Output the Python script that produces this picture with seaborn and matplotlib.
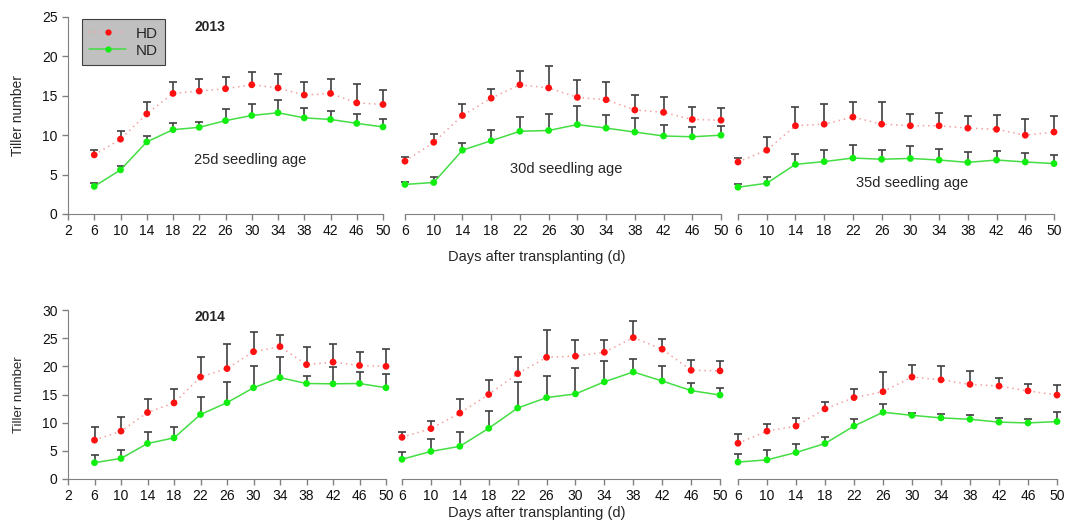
import numpy as np
import pandas as pd
import matplotlib
matplotlib.use("Agg")
import matplotlib.pyplot as plt
from matplotlib.lines import Line2D
import seaborn as sns

days = [6, 10, 14, 18, 22, 26, 30, 34, 38, 42, 46, 50]

# 2013
hd_2013_25 = [7.5, 9.5, 12.7, 15.3, 15.6, 15.9, 16.4, 16.0, 15.1, 15.3, 14.1, 13.9]
hd_2013_25_sd = [0.6, 1.0, 1.55, 1.5, 1.5, 1.5, 1.6, 1.8, 1.6, 1.8, 2.4, 1.8]
nd_2013_25 = [3.5, 5.6, 9.15, 10.7, 11.0, 11.85, 12.5, 12.85, 12.2, 12.0, 11.5, 11.05]
nd_2013_25_sd = [0.4, 0.55, 0.8, 0.8, 0.7, 1.45, 1.4, 1.65, 1.2, 1.1, 1.2, 1.05]

hd_2013_30 = [6.7, 9.1, 12.5, 14.7, 16.4, 16.0, 14.8, 14.5, 13.2, 12.9, 12.0, 11.9]
hd_2013_30_sd = [0.5, 1.1, 1.4, 1.1, 1.7, 2.8, 2.2, 2.2, 1.9, 2.0, 1.6, 1.5]
nd_2013_30 = [3.75, 4.0, 8.1, 9.3, 10.5, 10.6, 11.35, 10.9, 10.4, 9.9, 9.8, 10.0]
nd_2013_30_sd = [0.35, 0.75, 0.95, 1.35, 1.75, 2.1, 2.35, 1.6, 1.8, 1.4, 1.2, 1.2]

hd_2013_35 = [6.6, 8.1, 11.2, 11.4, 12.3, 11.4, 11.2, 11.2, 10.9, 10.75, 10.0, 10.4]
hd_2013_35_sd = [0.5, 1.65, 2.4, 2.6, 1.95, 2.8, 1.5, 1.6, 1.5, 1.8, 2.1, 2.0]
nd_2013_35 = [3.4, 3.9, 6.3, 6.65, 7.1, 6.95, 7.05, 6.85, 6.55, 6.85, 6.6, 6.4]
nd_2013_35_sd = [0.45, 0.85, 1.35, 1.45, 1.6, 1.15, 1.55, 1.35, 1.3, 1.1, 1.1, 1.1]

# 2014
hd_2014_25 = [6.9, 8.5, 11.8, 13.5, 18.1, 19.6, 22.6, 23.5, 20.3, 20.75, 20.15, 20.0]
hd_2014_25_sd = [2.35, 2.5, 2.4, 2.4, 3.6, 4.4, 3.5, 2.0, 3.1, 3.25, 2.35, 3.1]
nd_2014_25 = [2.9, 3.65, 6.3, 7.3, 11.45, 13.55, 16.2, 18.0, 16.95, 16.9, 16.95, 16.2]
nd_2014_25_sd = [1.3, 1.5, 2.0, 1.95, 3.05, 3.7, 3.9, 3.7, 1.25, 2.95, 2.05, 2.5]

hd_2014_30 = [7.4, 8.95, 11.7, 15.0, 18.7, 21.6, 21.8, 22.5, 25.1, 23.05, 19.3, 19.2]
hd_2014_30_sd = [0.9, 1.35, 2.5, 2.5, 3.0, 4.9, 2.8, 2.2, 3.0, 1.85, 1.9, 1.8]
nd_2014_30 = [3.5, 4.9, 5.8, 9.0, 12.6, 14.45, 15.1, 17.25, 19.0, 17.4, 15.7, 14.9]
nd_2014_30_sd = [1.25, 2.2, 2.6, 3.1, 4.7, 3.85, 4.6, 3.65, 2.3, 2.7, 1.4, 1.3]

hd_2014_35 = [6.35, 8.5, 9.4, 12.45, 14.45, 15.5, 18.1, 17.6, 16.8, 16.5, 15.65, 14.9]
hd_2014_35_sd = [1.55, 1.3, 1.45, 1.25, 1.6, 3.5, 2.1, 2.4, 2.4, 1.4, 1.3, 1.7]
nd_2014_35 = [3.0, 3.4, 4.7, 6.3, 9.4, 11.85, 11.3, 10.85, 10.6, 10.1, 9.95, 10.2]
nd_2014_35_sd = [1.5, 1.7, 1.5, 1.15, 1.2, 1.55, 0.4, 0.65, 0.8, 0.7, 0.7, 1.7]

ages = ["25d seedling age", "30d seedling age", "35d seedling age"]

series = {
    (2013, 0): (hd_2013_25, hd_2013_25_sd, nd_2013_25, nd_2013_25_sd),
    (2013, 1): (hd_2013_30, hd_2013_30_sd, nd_2013_30, nd_2013_30_sd),
    (2013, 2): (hd_2013_35, hd_2013_35_sd, nd_2013_35, nd_2013_35_sd),
    (2014, 0): (hd_2014_25, hd_2014_25_sd, nd_2014_25, nd_2014_25_sd),
    (2014, 1): (hd_2014_30, hd_2014_30_sd, nd_2014_30, nd_2014_30_sd),
    (2014, 2): (hd_2014_35, hd_2014_35_sd, nd_2014_35, nd_2014_35_sd),
}

rows = []
for (year, i), (hd, hd_sd, nd, nd_sd) in series.items():
    for d, m, s in zip(days, hd, hd_sd):
        rows.append(dict(year=year, age=ages[i], day=d, trt="HD", mean=m, sd=s))
    for d, m, s in zip(days, nd, nd_sd):
        rows.append(dict(year=year, age=ages[i], day=d, trt="ND", mean=m, sd=s))
df = pd.DataFrame(rows)

sns.set_style("ticks")
plt.rcParams['font.family'] = ['Liberation Sans', 'DejaVu Sans']

line_col = {"HD": "#f4a0a0", "ND": "#44dd44"}
mark_col = {"HD": "#ff1010", "ND": "#10ee10"}
spine_col = "#808080"

fig = plt.figure(figsize=(10.65, 5.23), dpi=100)
W, H = 1065, 523

# pixel boxes (left, right) for panels, (top, bottom) for rows
top_cols = [(68, 383), (405, 721), (738, 1054)]
bot_cols = [(68, 386), (402, 720), (738, 1057)]
rows_px = {2013: (17, 214), 2014: (310, 479)}
ymax = {2013: 25, 2014: 30}
# label positions in data units
age_pos = {0: (29.7, 6.85), 1: (28.4, 5.7), 2: (30.2, 3.9)}
year_pos = {2013: (0.45, 0.95), 2014: (0.447, 0.96)}

for year, cols in [(2013, top_cols), (2014, bot_cols)]:
    t, b = rows_px[year]
    for i, (l, r) in enumerate(cols):
        ax = fig.add_axes([l / W, 1 - b / H, (r - l) / W, (b - t) / H])
        sub = df[(df.year == year) & (df.age == ages[i])]

        for trt in ["HD", "ND"]:
            s = sub[sub.trt == trt]
            # upper error bars only
            ax.vlines(s["day"], s["mean"], s["mean"] + s["sd"], color="#404040",
                      lw=1.2, zorder=2, clip_on=False)
            ax.scatter(s["day"], s["mean"] + s["sd"], marker="_", s=40,
                       color="#404040", lw=1.2, zorder=2, clip_on=False)
        sns.lineplot(data=sub, x="day", y="mean", hue="trt", style="trt",
                     palette=line_col, dashes={"HD": (1, 2.5), "ND": ""},
                     lw=1.1, ax=ax, legend=False, zorder=3)
        sns.scatterplot(data=sub, x="day", y="mean", hue="trt", palette=mark_col,
                        s=24, edgecolor="none", ax=ax, legend=False, zorder=4,
                        clip_on=False)

        x0 = 2 if i == 0 else 6
        ax.set_xlim(x0, 50)
        ax.set_xticks(list(range(x0, 51, 4)))
        ax.set_ylim(0, ymax[year])
        ax.set_xlabel("")
        ax.set_ylabel("")
        ax.tick_params(axis="both", labelsize=10, colors=spine_col,
                       labelcolor="#111111", length=4, width=1)
        for sp in ["top", "right"]:
            ax.spines[sp].set_visible(False)
        ax.spines["bottom"].set_color(spine_col)
        ax.spines["left"].set_color(spine_col)
        if i == 0:
            ax.set_yticks(list(range(0, ymax[year] + 1, 5)))
            ax.set_ylabel("Tiller number", fontsize=10 if year == 2013 else 9.5,
                          labelpad=12)
            yx, yy = year_pos[year]
            ax.text(yx, yy, str(year), transform=ax.transAxes,
                    fontsize=10, fontweight="bold", ha="center", va="center")
        else:
            ax.spines["left"].set_visible(False)
            ax.set_yticks([])

        if year == 2013:
            tx, ty = age_pos[i]
            ax.text(tx, ty, ages[i], fontsize=10.5, ha="center", va="center")
            if i == 0:
                handles = [
                    Line2D([], [], color=line_col["HD"], ls=(0, (1, 2.5)),
                           marker="o", markersize=4.5, markerfacecolor=mark_col["HD"],
                           markeredgecolor="none", lw=1.1),
                    Line2D([], [], color=line_col["ND"], ls="-",
                           marker="o", markersize=4.5, markerfacecolor=mark_col["ND"],
                           markeredgecolor="none", lw=1.1),
                ]
                leg = ax.legend(handles, ["HD", "ND"], loc="upper left",
                                bbox_to_anchor=(0.044, 0.99), borderaxespad=0,
                                frameon=True, fancybox=False, framealpha=1,
                                facecolor="#c0c0c0", edgecolor="#404040",
                                fontsize=11, handlelength=2.4,
                                handletextpad=0.6, borderpad=0.5,
                                labelspacing=0.2)
                leg.get_frame().set_linewidth(0.8)

fig.text(537 / W, 1 - 257 / H, "Days after transplanting (d)", fontsize=10.5,
         ha="center", va="center")
fig.text(537 / W, 1 - 513 / H, "Days after transplanting (d)", fontsize=10.5,
         ha="center", va="center")

fig.savefig("out.png", dpi=100)
